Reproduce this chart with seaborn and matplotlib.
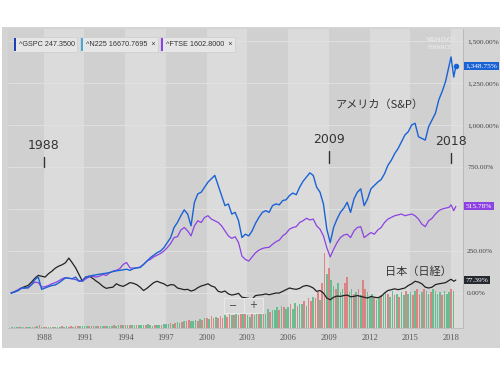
import numpy as np
import pandas as pd
import seaborn as sns
import matplotlib
matplotlib.use("Agg")
import matplotlib.pyplot as plt
from matplotlib.patches import Rectangle
from matplotlib.transforms import blended_transform_factory

# quarterly points from mid 1985, plus a few extra points in early 2018
years = list(1985.6 + 0.25 * np.arange(130)) + [2018.0, 2018.2, 2018.35]

# % change since start
sp500 = [0, 5,
         15, 28, 32, 30,   50, 80, 95, 22,   30, 38, 45, 48,   60, 75, 90, 88,
         85, 95, 70, 75,   95, 100, 105, 108,   112, 115, 118, 122,   128, 132, 135, 138,
         142, 135, 145, 150,   152, 170, 190, 210,   225, 240, 250, 270,   300, 330, 390, 420,
         460, 495, 470, 400,   540, 590, 600, 630,   660, 680, 700, 640,   580, 520, 530, 470,
         480, 430, 330, 350,   340, 370, 415, 450,   480, 490, 480, 520,   530, 525, 550, 555,
         580, 595, 585, 630,   665, 690, 715, 700,   630, 600, 530, 380,   300, 390, 440, 480,
         505, 540, 480, 560,   600, 620, 520, 560,   620, 640, 660, 675,   710, 760, 790, 830,
         860, 900, 940, 960,   1000, 1010, 930, 920,   910, 990, 1030, 1070,   1150, 1200, 1260, 1350,
         1405, 1285, 1348.75]

ftse = [0, 8,
        20, 30, 28, 35,   50, 65, 62, 35,   38, 45, 55, 62,   72, 85, 92, 88,
        85, 80, 72, 70,   85, 95, 100, 95,   100, 110, 105, 120,   130, 135, 145, 170,
        182, 150, 148, 150,   155, 170, 190, 200,   215, 225, 235, 250,   270, 295, 330, 335,
        375, 390, 370, 340,   400, 430, 420, 450,   460, 440, 430, 420,   400, 370, 340, 325,
        335, 300, 220, 200,   190, 215, 240, 255,   265, 270, 272, 290,   305, 315, 340, 355,
        380, 390, 395, 420,   430, 445, 435, 440,   400, 380, 340, 270,   215, 260, 300, 330,
        345, 350, 330, 370,   390, 395, 330, 345,   360, 350, 375, 390,   420, 440, 450, 460,
        465, 470, 460, 465,   470, 460, 440, 410,   395, 430, 445, 470,   490, 500, 505, 510,
        525, 490, 515.78]

nikkei = [0, 8,
          15, 30, 38, 45,   65, 88, 105, 100,   95, 115, 130, 148,   160, 168, 180, 208,
          180, 150, 110, 70,   95, 100, 88, 72,   58, 40, 28, 32,   35, 55, 45, 40,
          50, 62, 58, 50,   35, 15, 28, 45,   62, 70, 62, 55,   42, 50, 48, 30,
          25, 20, 22, 12,   18, 32, 42, 48,   55, 42, 35, 10,   5, 12, -5, -12,
          -8, -2, -25, -28,   -32, -36, -15, -12,   -10, -5, -10, -5,   0, 0, 10, 20,
          30, 25, 22, 28,   40, 45, 40, 30,   10, 15, 0, -30,   -40, -25, -18, -20,
          -15, -12, -22, -20,   -15, -20, -25, -30,   -20, -25, -28, -20,   0, 15, 20, 25,
          20, 25, 30, 45,   55, 70, 65, 55,   35, 30, 35, 50,   55, 58, 62, 75,
          82, 70, 77.39]

# volume bars, six per year (arbitrary units)
volume = [0.3, 0.3,
          0.3, 0.4, 0.3, 0.4, 0.3, 0.4,
          0.4, 0.5, 0.4, 0.6, 1.0, 0.5,
          0.4, 0.4, 0.5, 0.4, 0.4, 0.5,
          0.5, 0.5, 0.6, 0.5, 0.6, 0.5,
          0.6, 0.5, 0.6, 0.7, 0.6, 0.6,
          0.6, 0.7, 0.6, 0.7, 0.7, 0.8,
          0.7, 0.8, 0.7, 0.8, 0.7, 0.8,
          0.8, 0.9, 0.8, 1.0, 0.9, 1.0,
          1.0, 1.1, 0.9, 1.0, 1.1, 1.0,
          0.9, 1.0, 1.1, 1.0, 1.2, 1.1,
          0.8, 1.0, 0.9, 1.1, 1.0, 1.2,
          1.2, 1.4, 1.6, 1.3, 1.8, 2.0,
          1.8, 2.0, 2.4, 2.2, 2.8, 2.4,
          2.2, 2.8, 2.4, 3.0, 2.6, 3.2,
          3.5, 3.0, 4.0, 3.2, 3.8, 3.4,
          4.0, 3.5, 4.5, 3.8, 5.0, 4.2,
          4.5, 5.0, 4.2, 6.0, 5.0, 5.5,
          4.5, 3.8, 5.5, 4.5, 6.0, 5.0,
          5.0, 6.0, 4.8, 6.5, 5.5, 6.0,
          6.0, 7.0, 6.0, 7.5, 7.0, 6.5,
          7.0, 8.0, 6.5, 8.5, 7.5, 8.0,
          8.0, 9.0, 7.5, 10.0, 9.0, 10.5,
          10.0, 12.0, 9.5, 15.0, 25.0, 18.0,
          20.0, 16.0, 14.0, 13.0, 15.0, 12.0,
          13.0, 15.0, 17.0, 12.0, 13.0, 11.5,
          12.0, 13.0, 11.0, 16.0, 13.0, 12.0,
          10.5, 11.5, 10.0, 9.5, 10.5, 11.0,
          11.0, 12.0, 11.5, 10.5, 12.5, 11.0,
          11.5, 10.5, 12.0, 11.0, 12.5, 11.5,
          12.0, 11.0, 12.5, 13.0, 11.5, 12.0,
          13.0, 12.5, 11.5, 12.0, 13.0, 12.5,
          11.5, 12.0, 11.0, 12.5, 11.5, 12.0,
          13.0, 12.5]
vol_up = ("GG" "GRGGRG" "GGRGRR" "GRGGRG" "GGRGGR" "RGRRGG" "GGRGRG" "RGGRGG"
          "GRGGRG" "RGRGGR" "GGGRGG" "GRGGRG" "GGRGRG" "GRGRRG" "GGRGRG" "RGRRGR"
          "RRGRRG" "RGRRGR" "GGRGGR" "GRGGRG" "GGRGRG" "GRGGRG" "GRGRRG" "RRGRRG"
          "RGGRGG" "GRRGGR" "GRGRRG" "GGRGGR" "GGRGGR" "GRGGRG" "GRGRRG" "RGGRGG"
          "GGRGGG" "RG")

xtick_years = [1988, 1991, 1994, 1997, 2000, 2003, 2006, 2009, 2012, 2015, 2018]
ytick_vals = [0, 250, 750, 1000, 1250, 1500]
grid_vals = [0, 250, 500, 750, 1000, 1250, 1500]

blue = '#1a62d6'
purple = '#8c42e2'
black = '#222222'

sns.set_style("white")
plt.rcParams['font.family'] = ['DejaVu Sans']
serif = 'Liberation Serif'
jp = ['Noto Sans CJK JP', 'DejaVu Sans']

W, H = 500, 375
def fx(x):
    return x / W
def fy(y):
    return 1 - y / H

fig = plt.figure(figsize=(5, 3.75), dpi=100)
fig.patch.set_facecolor('white')
fig.patches.append(Rectangle((fx(2), fy(348)), fx(498), 321 / H, transform=fig.transFigure,
                             facecolor='#d4d4d4', edgecolor='none', zorder=-5))

ax = fig.add_axes([fx(8), fy(328), fx(455), 299 / H])
ax.set_facecolor('#dbdbdb')
ax.set_xlim(1985.37, 2018.88)
ax.set_ylim(0, 100)

# alternating bands every 3 years
for a, b in [(1985.37, 1988), (1991, 1994), (1997, 2000), (2003, 2006), (2009, 2012), (2015, 2018)]:
    ax.axvspan(a, b, color='#d0d0d0', lw=0, zorder=0)

ax2 = ax.twinx()
ax2.set_ylim(-208, 1571)

trans_grid = blended_transform_factory(ax.transAxes, ax2.transData)
ax.hlines(grid_vals, 0, 1, transform=trans_grid, colors='#e2e2e2', lw=0.6, zorder=0.5)

# volume
vol_x = 1985.68 + np.arange(len(volume)) / 6
vol_c = ['#5dba8c' if c == 'G' else '#de7c7c' for c in vol_up]
ax.bar(vol_x, volume, width=0.12, color=vol_c, alpha=0.9, lw=0, zorder=1)

df = pd.DataFrame({'year': years, 'sp500': sp500, 'ftse': ftse, 'nikkei': nikkei})
sns.lineplot(data=df, x='year', y='nikkei', ax=ax2, color=black, lw=0.9)
sns.lineplot(data=df, x='year', y='ftse', ax=ax2, color=purple, lw=0.9)
sns.lineplot(data=df, x='year', y='sp500', ax=ax2, color=blue, lw=1.0)
ax2.scatter([years[-1]], [sp500[-1]], s=9, color=blue, zorder=5)

for s in ['left', 'top']:
    ax.spines[s].set_visible(False)
ax.spines['right'].set_color('#b5b5b5')
ax.spines['right'].set_linewidth(0.6)
ax.spines['bottom'].set_color('#bcbcbc')
ax.spines['bottom'].set_linewidth(0.6)
for s in ax2.spines.values():
    s.set_visible(False)

ax.set_yticks([])
ax.set_xticks(xtick_years)
ax.set_xticklabels([str(y) for y in xtick_years], fontsize=6, family=serif, color='#555555')
ax.tick_params(axis='x', length=0, pad=4)
ax2.set_yticks(ytick_vals)
ax2.set_yticklabels([f"{v:,.2f}%" for v in ytick_vals], fontsize=5.3, family=serif, color='#444444')
ax2.tick_params(axis='y', length=0, pad=3)
ax2.set_xlabel('')
ax2.set_ylabel('')
ax.set_xlabel('')

# current value tags on the right
tag_t = blended_transform_factory(ax2.transAxes, ax2.transData)
for val, col in [(sp500[-1], blue), (ftse[-1], purple), (nikkei[-1], '#262a30')]:
    ax2.text(1.006, val, f"{val:,.2f}%", transform=tag_t, fontsize=5.3, family=serif,
             color='white', va='center', ha='left', clip_on=False,
             bbox=dict(boxstyle='square,pad=0.22', fc=col, ec='none'))

# year markers
for yr, ty, t0, t1 in [(1988, 875, 750, 810), (2009, 911, 774, 845), (2018, 899, 774, 833)]:
    ax2.text(yr, ty, str(yr), fontsize=9, color='#333333', ha='center', va='center')
    ax2.plot([yr, yr], [t0, t1], color='#333333', lw=1.0)

ax2.text(2012.77, 1119, 'アメリカ（S&P）', family=jp, fontsize=8, color='#333333', ha='center', va='center')
ax2.text(2015.57, 125, '日本（日経）', family=jp, fontsize=8, color='#333333', ha='center', va='center')

# legend chips
chips = [(13, 77, '^GSPC 247.3500', '#1d3fb8'),
         (80, 158, '^N225 16670.7695  ×', '#4aa7d6'),
         (160, 235, '^FTSE 1602.8000  ×', '#8c42e2')]
for x0, x1, label, col in chips:
    fig.patches.append(Rectangle((fx(x0), fy(52)), fx(x1 - x0), 15 / H, transform=fig.transFigure,
                                 facecolor='#e6e6e6', edgecolor='#cccccc', lw=0.5, zorder=3))
    fig.patches.append(Rectangle((fx(x0 + 1), fy(50.5)), fx(2.2), 12 / H, transform=fig.transFigure,
                                 facecolor=col, edgecolor='none', zorder=4))
    fig.text(fx(x0 + 6), fy(44.5), label, fontsize=5.2, family='Liberation Sans', color='#333333',
             va='center', ha='left', zorder=5)

# watermark
fig.text(fx(440), fy(40), 'YAHOO!', fontsize=5, weight='bold', color='#e4e4e4', ha='center', va='center')
fig.text(fx(440), fy(47.5), 'FINANCE', fontsize=3.5, weight='bold', color='#e4e4e4', ha='center', va='center')

# zoom buttons
ax2.add_patch(Rectangle((fx(224), fy(313)), fx(39), 15 / H, transform=fig.transFigure,
                        facecolor='#d9d9d9', edgecolor='#e9e9e9', lw=0.7, zorder=6, clip_on=False))
ax2.plot([fx(243.5), fx(243.5)], [fy(313), fy(298)], transform=fig.transFigure, color='#e9e9e9',
         lw=0.7, zorder=6.5, clip_on=False)
ax2.text(fx(233.5), fy(305.5), '−', transform=fig.transFigure, fontsize=7, color='#444444',
         ha='center', va='center', zorder=7)
ax2.text(fx(253.5), fy(305.5), '+', transform=fig.transFigure, fontsize=7, color='#444444',
         ha='center', va='center', zorder=7)

fig.savefig('out.png', dpi=100)
